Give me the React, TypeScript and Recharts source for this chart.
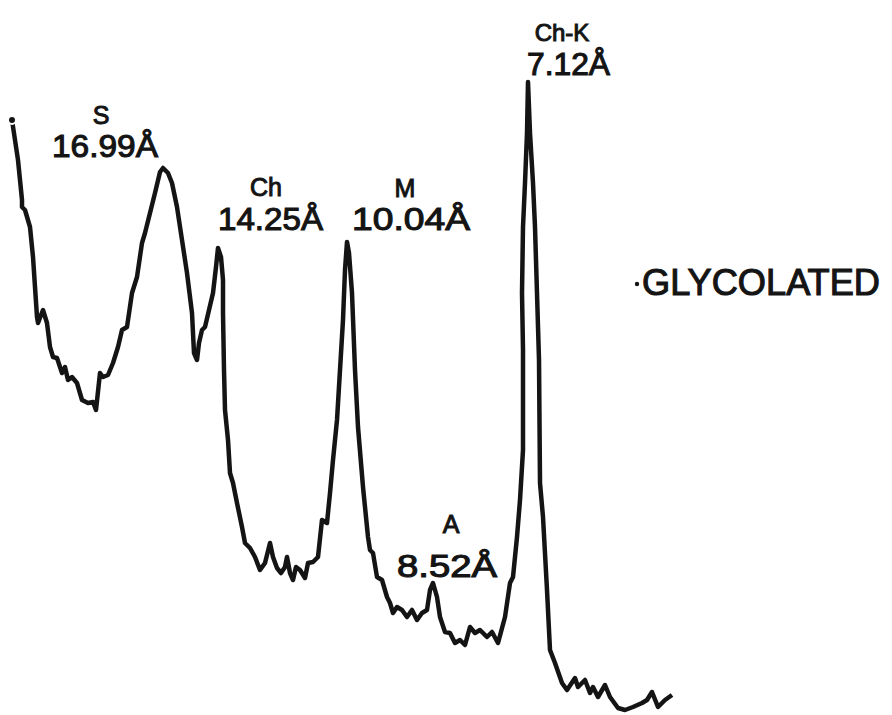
import { LineChart, Line, XAxis, YAxis } from 'recharts'

// trace: [scan position, intensity], one array per stretch of the scan
const smectiteStretch = [
  [12, 595], [18, 555], [22, 515], [22, 508], [25, 505], [30, 488], [33, 458], [35, 428],
  [37, 398], [38, 392], [43, 405], [47, 392], [50, 368], [53, 358], [57, 357], [62, 342],
  [65, 348], [68, 335], [72, 338], [77, 332], [82, 315], [88, 312], [93, 313], [96, 305],
  [100, 342], [103, 338], [108, 340], [113, 352], [118, 368], [122, 385], [127, 388],
  [132, 422], [137, 438], [142, 472], [145, 482], [150, 502], [155, 522], [160, 543],
  [163, 547], [168, 542], [172, 532], [177, 508], [182, 475], [187, 442], [192, 402],
  [194, 362], [197, 355], [199, 372], [202, 385], [205, 388], [209, 405], [213, 422],
  [216, 448], [218, 467], [221, 458], [223, 435],
]
const chloriteStretch = [
  [223, 402], [224, 345], [225, 305], [228, 275], [230, 242], [233, 232], [237, 212],
  [242, 188], [245, 172], [250, 167], [255, 158], [260, 145], [265, 152], [270, 172],
  [273, 158], [277, 147], [281, 142], [285, 148], [287, 158], [290, 142], [293, 135],
  [296, 148], [300, 145], [305, 137], [308, 152], [313, 153], [318, 158], [322, 195],
  [327, 192], [330, 222], [333, 255], [337, 295], [340, 345], [343, 395], [345, 445],
  [347, 473], [349, 462], [352, 422], [355, 345], [358, 288], [363, 228], [368, 178],
]
const micaStretch = [
  [370, 165], [373, 162], [377, 138], [382, 135], [387, 118], [390, 112], [393, 102],
  [397, 108], [402, 105], [407, 98], [412, 105], [417, 95], [422, 102], [427, 105],
  [430, 125], [433, 132], [437, 118], [440, 98], [445, 83], [450, 82], [455, 72],
  [460, 75], [465, 70], [470, 88], [475, 82], [480, 85], [487, 78], [492, 83], [498, 72],
]
const kaoliniteStretch = [
  [505, 98], [510, 132], [513, 138], [517, 178], [520, 215], [523, 265], [523, 365],
  [522, 422], [523, 488], [525, 532], [527, 582], [528, 633], [530, 582], [533, 532],
  [535, 488], [537, 422], [539, 355], [540, 232], [543, 198], [547, 125], [550, 65],
  [555, 52], [562, 32], [567, 25], [575, 37], [578, 28], [585, 35], [590, 22], [593, 28],
  [598, 18], [605, 30], [610, 18], [618, 7], [625, 5], [633, 8], [642, 12], [647, 15],
  [652, 23], [658, 8], [665, 15], [672, 20],
]

// peak annotations
const peakMinerals = ['S', 'Ch', 'M', 'A', 'Ch-K']
const peakSpacings = ['16.99Å', '14.25Å', '10.04Å', '8.52Å', '7.12Å']
const sampleTitle = 'GLYCOLATED'

const data = [...smectiteStretch, ...chloriteStretch, ...micaStretch, ...kaoliniteStretch].map(
  ([x, y]) => ({ x, y })
)

// label placement on the page: mineral centre x, baseline y; spacing start x, baseline, width
const mineralPos = [
  [101, 124],
  [266, 196],
  [405, 197],
  [451, 533],
  [562, 41],
]
const spacingPos = [
  [52, 157, 106],
  [218, 230, 105],
  [352, 230, 118],
  [397, 577, 100],
  [527, 75, 83],
]

const W = 892
const H = 715
const ink = '#141414'
const font = '"Liberation Sans", Arial, sans-serif'

export default function App() {
  return (
    <div style={{ position: 'absolute', left: 0, top: 0, width: W, height: H, background: '#fff' }}>
      <LineChart width={W} height={H} data={data} margin={{ top: 0, right: 0, bottom: 0, left: 0 }}>
        <XAxis dataKey="x" type="number" domain={[0, W]} hide />
        <YAxis type="number" domain={[0, H]} hide />
        <Line
          type="linear"
          dataKey="y"
          stroke={ink}
          strokeWidth={4.5}
          strokeLinejoin="round"
          dot={false}
          isAnimationActive={false}
        />
      </LineChart>
      <svg
        width={W}
        height={H}
        style={{ position: 'absolute', left: 0, top: 0, pointerEvents: 'none' }}
        fontFamily={font}
      >
        {peakMinerals.map((m, i) => (
          <text
            key={m}
            x={mineralPos[i][0]}
            y={mineralPos[i][1]}
            fontSize={i === 4 ? 24 : 25}
            textAnchor="middle"
            fill={ink}
            stroke={ink}
            strokeWidth={1}
          >
            {m}
          </text>
        ))}
        {peakSpacings.map((d, i) => (
          <text
            key={d}
            x={spacingPos[i][0]}
            y={spacingPos[i][1]}
            fontSize={i === 4 ? 31 : 32}
            textLength={spacingPos[i][2]}
            lengthAdjust="spacingAndGlyphs"
            fill={ink}
            stroke={ink}
            strokeWidth={1.1}
          >
            {d}
          </text>
        ))}
        <circle cx={637} cy={284} r={2.2} fill={ink} />
        <text
          x={642}
          y={295}
          fontSize={36}
          textLength={238}
          lengthAdjust="spacingAndGlyphs"
          fill={ink}
          stroke={ink}
          strokeWidth={1.1}
        >
          {sampleTitle}
        </text>
      </svg>
    </div>
  )
}
